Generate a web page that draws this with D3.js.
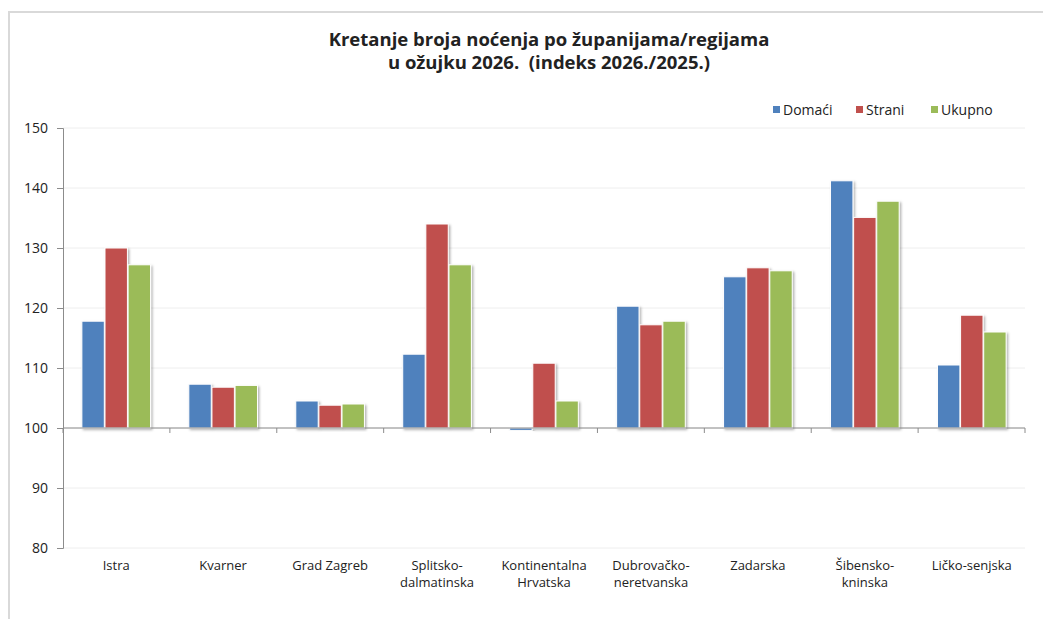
<!DOCTYPE html>
<html>
<head>
<meta charset="utf-8">
<script src="https://cdn.jsdelivr.net/npm/d3@7"></script>
<style>
  body { margin: 0; background: #fff; }
  svg text { font-family: "Open Sans", "Noto Sans", sans-serif; fill: #222; }
</style>
</head>
<body>
<div id="chart"></div>
<script>
// categories (regions), label lines split for two-row labels
const regions = [
    ["Istra"], ["Kvarner"], ["Grad Zagreb"], ["Splitsko-", "dalmatinska"],
    ["Kontinentalna", "Hrvatska"], ["Dubrovačko-", "neretvanska"], ["Zadarska"],
    ["Šibensko-", "kninska"], ["Ličko-senjska"]
];
const seriesNames = ["Domaći", "Strani", "Ukupno"];
const domaci = [117.8, 107.3, 104.5, 112.3, 99.6, 120.3, 125.2, 141.2, 110.5];
const strani = [130.0, 106.8, 103.8, 134.0, 110.8, 117.2, 126.7, 135.1, 118.8];
const ukupno = [127.2, 107.1, 104.0, 127.2, 104.5, 117.8, 126.2, 137.8, 116.0];
const yTicks = [80, 90, 100, 110, 120, 130, 140, 150];

const width = 1043, height = 619;
const colors = ["#4f81bd", "#c0504d", "#9bbb59"];
const margin = { left: 63, right: 18, top: 128, bottom: 71 };

const svg = d3.select("#chart").append("svg")
    .attr("width", width)
    .attr("height", height);

const defs = svg.append("defs");
defs.append("filter")
    .attr("id", "shadow")
    .attr("x", "-20%").attr("y", "-5%").attr("width", "150%").attr("height", "120%")
    .append("feDropShadow")
    .attr("dx", 1.5).attr("dy", 1.5)
    .attr("stdDeviation", 1.2)
    .attr("flood-color", "#000")
    .attr("flood-opacity", 0.3);

// frame
svg.append("path")
    .attr("d", `M9,${height} L9,12 L${width},12`)
    .attr("fill", "none")
    .attr("stroke", "#d9d9d9")
    .attr("stroke-width", 2);

// title
const title = svg.append("text")
    .attr("text-anchor", "middle")
    .attr("font-weight", "bold")
    .attr("font-size", 18.5)
    .style("white-space", "pre");
title.append("tspan").attr("x", 549).attr("y", 46).text("Kretanje broja noćenja po županijama/regijama");
title.append("tspan").attr("x", 549).attr("y", 69).text("u ožujku 2026.  (indeks 2026./2025.)");

const x0 = d3.scaleBand()
    .domain(d3.range(regions.length))
    .range([margin.left, width - margin.right])
    .paddingInner(0.345)
    .paddingOuter(0.17);

const x1 = d3.scaleBand()
    .domain(d3.range(seriesNames.length))
    .range([0, x0.bandwidth()])
    .padding(0.03);

const y = d3.scaleLinear()
    .domain([80, 150])
    .range([height - margin.bottom, margin.top]);

// gridlines
svg.append("g")
    .selectAll("line")
    .data(yTicks)
    .enter()
    .append("line")
    .attr("x1", margin.left)
    .attr("x2", width - margin.right)
    .attr("y1", d => y(d))
    .attr("y2", d => y(d))
    .attr("stroke", "#eeeeee");

// y axis
const yAxis = d3.axisLeft(y).tickValues(yTicks).tickSize(6).tickPadding(9);
const yg = svg.append("g")
    .attr("transform", `translate(${margin.left},0)`)
    .call(yAxis);
yg.select(".domain").attr("stroke", "#8c8c8c");
yg.selectAll(".tick line").attr("stroke", "#8c8c8c");
yg.selectAll(".tick text").attr("font-size", 14).attr("font-family", "Open Sans, sans-serif").attr("fill", "#222");

// bars
const allSeries = [domaci, strani, ukupno];
const groups = svg.append("g")
    .selectAll("g")
    .data(regions.map((r, i) => allSeries.map((s, k) => ({ k: k, v: s[i] }))))
    .enter()
    .append("g")
    .attr("transform", (d, i) => `translate(${x0(i)},0)`);

groups.selectAll("rect")
    .data(d => d)
    .enter()
    .append("rect")
    .attr("x", d => x1(d.k))
    .attr("width", x1.bandwidth())
    .attr("y", d => y(Math.max(100, d.v)))
    .attr("height", d => Math.abs(y(d.v) - y(100)))
    .attr("fill", d => colors[d.k])
    .attr("stroke", "#fff")
    .attr("stroke-width", 1)
    .attr("filter", "url(#shadow)");

// x axis at 100
const boundaries = d3.range(regions.length + 1).map(i => margin.left + i * (width - margin.left - margin.right) / regions.length);
const xg = svg.append("g");
xg.append("line")
    .attr("x1", margin.left)
    .attr("x2", width - margin.right)
    .attr("y1", y(100))
    .attr("y2", y(100))
    .attr("stroke", "#8c8c8c");
xg.selectAll("line.tick")
    .data(boundaries)
    .enter()
    .append("line")
    .attr("class", "tick")
    .attr("x1", d => d).attr("x2", d => d)
    .attr("y1", y(100)).attr("y2", y(100) + 5)
    .attr("stroke", "#8c8c8c");

// category labels
const labels = svg.append("g")
    .selectAll("text")
    .data(regions)
    .enter()
    .append("text")
    .attr("text-anchor", "middle")
    .attr("font-size", 13);
labels.selectAll("tspan")
    .data((d, i) => d.map(t => ({ t: t, i: i })))
    .enter()
    .append("tspan")
    .attr("x", d => x0(d.i) + x0.bandwidth() / 2)
    .attr("y", (d, j) => 570 + j * 17)
    .text(d => d.t);

// legend
const legendX = [773, 856, 931];
const legend = svg.append("g")
    .selectAll("g")
    .data(seriesNames)
    .enter()
    .append("g")
    .attr("transform", (d, i) => `translate(${legendX[i]},110)`);
legend.append("rect")
    .attr("x", 0).attr("y", -4)
    .attr("width", 7).attr("height", 7)
    .attr("fill", (d, i) => colors[i]);
legend.append("text")
    .attr("x", 10).attr("y", 5)
    .attr("font-size", 14)
    .text(d => d);
</script>
</body>
</html>
